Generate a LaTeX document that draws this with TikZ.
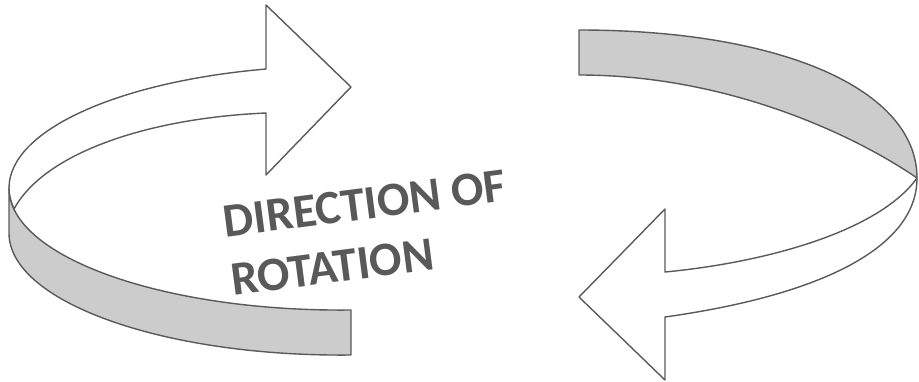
\documentclass[tikz,border=0pt]{standalone}
\usepackage{fontspec}
\setmainfont{Carlito}
\usepackage{xcolor}
\usepackage{tikz}
\definecolor{edgegray}{HTML}{5A5A5A}
\definecolor{bandgray}{HTML}{CCCCCC}
\definecolor{textgray}{HTML}{595959}
\tikzset{
  ribbon/.style={draw=edgegray,line width=1.4pt,line join=round},
  band/.style={ribbon,fill=bandgray},
  face/.style={ribbon,fill=white},
  caption/.style={text=textgray,font=\bfseries\fontsize{48}{59}\selectfont,align=left,inner sep=0pt},
}
\begin{document}
\begin{tikzpicture}[x=1pt,y=-1pt]
  \useasboundingbox (0,0) rectangle (919,381);
  % left piece: side band, then the arrow face on top
  \draw[band] (9,188) .. controls (9,257) and (164,312) .. (351,310) -- (351,355)
    .. controls (164,357) and (9,302) .. (9,233) -- cycle;
  \draw[face] (266,69) -- (266,5) -- (351,87) -- (266,175) -- (266,113)
    .. controls (150,118) and (45,152) .. (14,209)
    .. controls (11,202) and (9,195) .. (9,188)
    .. controls (9,131) and (116,82) .. (266,69) -- cycle;
  % right piece
  \draw[band] (579,30) .. controls (783,30) and (917,90) .. (917,178)
    .. controls (856,136) and (729,75) .. (579,75) -- cycle;
  \draw[face] (665,272) -- (665,209) -- (579,297) -- (665,380) -- (665,317)
    .. controls (815,296) and (917,250) .. (917,178)
    .. controls (880,230) and (770,262) .. (665,272) -- cycle;
  \node[caption,rotate=7.4,anchor=base west] (rotlabel) at (233,296) {DIRECTION OF\\ROTATION};
\end{tikzpicture}
\end{document}
